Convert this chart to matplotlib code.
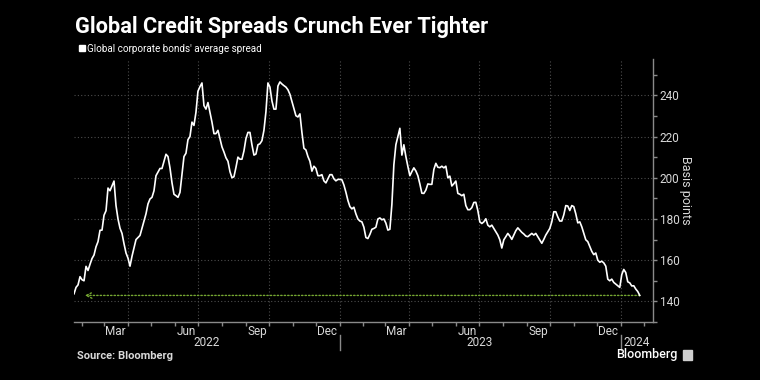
import matplotlib
matplotlib.use("Agg")
import matplotlib.pyplot as plt
import matplotlib.dates as mdates
from matplotlib.patches import Rectangle
import pandas as pd

# average spread of global corporate bonds, basis points
start_date = "2022-01-21"
end_date = "2024-01-26"
spread = [
    143.7, 146.8, 148, 152, 150.5, 150, 157, 155, 158, 160.8,
    162.5, 166.5, 169, 174.5, 174.6, 181.8, 184, 195, 193.7, 196,
    198.4, 186.5, 180, 175.5, 173, 168, 163.5, 161, 157.1, 161.9,
    166, 170, 171, 172, 175.5, 179, 182.5, 187.3, 189.7, 190.5,
    193.7, 201, 202.7, 204.5, 204.5, 208, 211.4, 210.3, 204.8, 197.6,
    192, 191.3, 190.5, 192.9, 201.6, 210.3, 211.9, 218.5, 220, 227,
    225.4, 231.8, 242, 244.2, 246, 235, 233.3, 236.5, 231.8, 227,
    221.4, 221.4, 223, 219, 215, 212.5, 209.7, 208, 203, 200,
    200.5, 205, 210, 209, 209, 213, 219, 222, 222, 216,
    211, 211.5, 216, 216.5, 218, 223, 232, 246, 244, 237.3,
    233.3, 233.3, 244.5, 246.5, 245.5, 244.7, 244, 242.7, 240.5, 237,
    233.5, 230.1, 229.5, 231, 222, 214.3, 213.5, 210.3, 208, 203.2,
    205.6, 204.5, 201, 201, 201.5, 198.5, 197.5, 199.5, 201.5, 201.5,
    199.5, 198.5, 199.2, 199.2, 199, 196.5, 193, 189, 186, 184.9,
    185.7, 182.5, 180, 179, 178.6, 176, 171, 170.5, 172.5, 175,
    175.4, 176, 180, 180.5, 179.6, 180, 178, 174.6, 175, 187,
    206.3, 216, 220, 224, 211, 216, 210.3, 205.5, 201, 203,
    204.8, 203.3, 201, 197, 192.5, 192.4, 194, 197, 196.8, 196.8,
    204, 207, 205.1, 204.9, 205.6, 204.8, 205.6, 200, 200.8, 196,
    197.1, 198.4, 192.4, 192, 191.3, 192, 186.5, 184.5, 184.5, 185.5,
    188, 188.1, 184.1, 178.6, 177.8, 178.6, 180.1, 177, 176.2, 177,
    175.4, 173.8, 172.2, 169.9, 165.9, 169.9, 171.4, 173, 171.7, 170.1,
    172.2, 174.3, 175.7, 174.6, 173.5, 172.7, 171.7, 171.4, 172.2, 173,
    172.2, 173, 171.4, 169.9, 168.2, 170.1, 172.2, 173.8, 175.4, 178.6,
    183.5, 183.5, 181, 179, 179, 182, 186.5, 186.3, 184.1, 186.5,
    186, 182.5, 178.1, 178.6, 176.2, 173, 169.9, 169, 166.7, 164.3,
    162.7, 163.5, 160, 159, 159.5, 158.7, 157.1, 150.8, 150, 150.8,
    149.2, 148.4, 147.6, 146.8, 153, 155.5, 154, 149.5, 149, 147.5,
    147.6, 146, 144.8, 142.9,
]
years = ["2022", "2023", "2024"]
y_ticks = [140, 160, 180, 200, 220, 240]

dates = pd.date_range(start_date, end_date, periods=len(spread))

plt.rcParams["font.family"] = ["Roboto", "DejaVu Sans"]
fg = "#d9d9d9"
axis_col = "#8a8a8a"
grid_col = "#4d4d4d"

fig = plt.figure(figsize=(7.6, 3.8), dpi=100, facecolor="black")
ax = fig.add_axes([0.0974, 0.1526, 0.7616, 0.692])
ax.set_facecolor("black")

x_min = pd.Timestamp("2022-01-21")
x_max = pd.Timestamp("2024-02-12")
ax.set_xlim(x_min, x_max)
ax.set_ylim(132.4, 257.6)

# grid
for y in y_ticks:
    ax.axhline(y, color=grid_col, lw=0.8, ls=(0, (1, 2)), zorder=0)
for q in pd.date_range("2022-04-01", "2024-01-01", freq="QS"):
    ax.axvline(q, color=grid_col, lw=0.8, ls=(0, (1, 2)), zorder=0)

ax.plot(dates, spread, color="white", lw=1.2, zorder=3)

# arrow back to the start at latest level
ax.annotate("", xy=(dates[0] + pd.Timedelta(days=14), spread[-1]),
            xytext=(dates[-1], spread[-1]),
            arrowprops=dict(arrowstyle="->", color="#76a832", lw=1.0,
                            linestyle=(0, (1, 1.5)), shrinkA=0, shrinkB=0),
            zorder=2)

# axes styling
for s in ["left", "top"]:
    ax.spines[s].set_visible(False)
for s in ["right", "bottom"]:
    ax.spines[s].set_color(axis_col)
    ax.spines[s].set_linewidth(1.0)

ax.yaxis.tick_right()
ax.set_yticks(y_ticks)
ax.set_yticks(range(130, 260, 10), minor=True)
ax.tick_params(axis="y", which="both", colors=axis_col, labelcolor=fg,
               length=3, width=1, direction="out", labelsize=8.5, pad=2)

ax.xaxis.set_major_locator(mdates.MonthLocator())
ax.xaxis.set_major_formatter(plt.NullFormatter())
ax.xaxis.set_minor_locator(mdates.MonthLocator(bymonth=(3, 6, 9, 12), bymonthday=16))
ax.xaxis.set_minor_formatter(mdates.DateFormatter("%b"))
ax.tick_params(axis="x", which="major", colors=axis_col, length=3, width=1)
ax.tick_params(axis="x", which="minor", length=0, labelcolor=fg,
               labelsize=8.5, pad=2)

# year labels and separators
trans = ax.get_xaxis_transform()
bounds = [x_min, pd.Timestamp("2023-01-01"), pd.Timestamp("2024-01-01"), x_max]
for i, yr in enumerate(years):
    mid = bounds[i] + (bounds[i + 1] - bounds[i]) / 2
    ax.text(mid, -0.077, yr, transform=trans, ha="center", va="center",
            fontsize=8.5, color=fg)
for b in bounds[1:3]:
    ax.plot([b, b], [-0.048, -0.105], transform=trans, color=axis_col,
            lw=1, clip_on=False)

fig.text(0.9026, 0.4987, "Basis points", rotation=270, ha="center",
         va="center", fontsize=9, color=fg)

# title, legend, source
fig.text(0.0987, 0.929, "Global Credit Spreads Crunch Ever Tighter",
         fontsize=15.7, fontweight="bold", color="white", va="center")
fig.patches.append(Rectangle((0.1040, 0.8645), 0.0082, 0.0165,
                             transform=fig.transFigure, color="white"))
fig.text(0.1150, 0.871, "Global corporate bonds' average spread",
         fontsize=7.1, color="white", va="center")
fig.text(0.1013, 0.063, "Source: Bloomberg", fontsize=8,
         fontweight="bold", color=fg, va="center")
fig.text(0.8105, 0.0658, "Bloomberg", fontsize=9, fontweight="medium",
         color="white", va="center")
fig.patches.append(Rectangle((0.8987, 0.0526), 0.0118, 0.0263,
                             transform=fig.transFigure, color="#cfcfcf"))

fig.savefig("out.png", dpi=100, facecolor="black")
